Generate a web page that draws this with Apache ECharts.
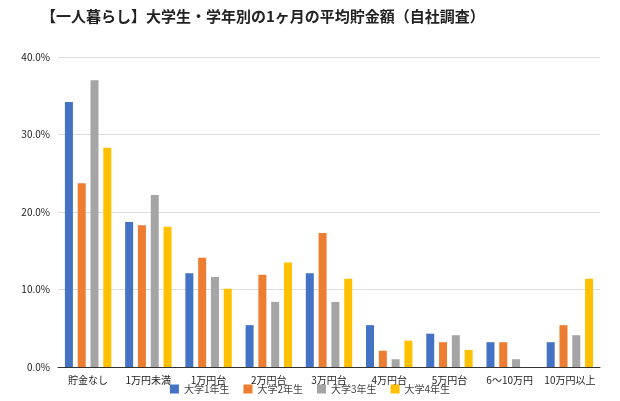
<!DOCTYPE html>
<html><head><meta charset="utf-8">
<script src="https://cdn.jsdelivr.net/npm/echarts@6/dist/echarts.min.js"></script>
<style>html,body{margin:0;padding:0;background:#fff}#c{width:620px;height:401px}</style>
</head><body><div id="c"></div>
<script>
const categories=['貯金なし','1万円未満','1万円台','2万円台','3万円台','4万円台','5万円台','6〜10万円','10万円以上'];
const year1=[34.2,18.7,12.1,5.4,12.1,5.4,4.3,3.2,3.2];
const year2=[23.7,18.3,14.1,11.9,17.3,2.1,3.2,3.2,5.4];
const year3=[37.0,22.2,11.6,8.4,8.4,1.0,4.1,1.0,4.1];
const year4=[28.3,18.1,10.1,13.5,11.4,3.4,2.2,0,11.4];
const names=['大学1年生','大学2年生','大学3年生','大学4年生'];
const colors=['#4472c4','#ed7d31','#a5a5a5','#ffc000'];
const font='"Noto Sans CJK JP", sans-serif';
const chart=echarts.init(document.getElementById('c'));
chart.setOption({
  animation:false,
  textStyle:{fontFamily:font},
  title:{text:'【一人暮らし】大学生・学年別の1ヶ月の平均貯金額（自社調査）',left:36,top:4,textStyle:{fontSize:15,fontWeight:'bold',color:'#222',fontFamily:font}},
  legend:{bottom:2,left:'center',itemWidth:9,itemHeight:9,itemGap:14,icon:'rect',textStyle:{fontSize:10,color:'#444'}},
  grid:{left:58,right:20,top:57,bottom:34},
  xAxis:{type:'category',data:categories,axisTick:{show:false},axisLine:{lineStyle:{color:'#333'}},axisLabel:{fontSize:10,color:'#222',interval:0}},
  yAxis:{type:'value',min:0,max:40,interval:10,axisLabel:{formatter:v=>v.toFixed(1)+'%',fontSize:10,color:'#222'},splitLine:{lineStyle:{color:'#ddd'}}},
  series:[year1,year2,year3,year4].map((d,i)=>({name:names[i],type:'bar',data:d,itemStyle:{color:colors[i]},barWidth:8,barGap:'60%'}))
});
</script></body></html>
